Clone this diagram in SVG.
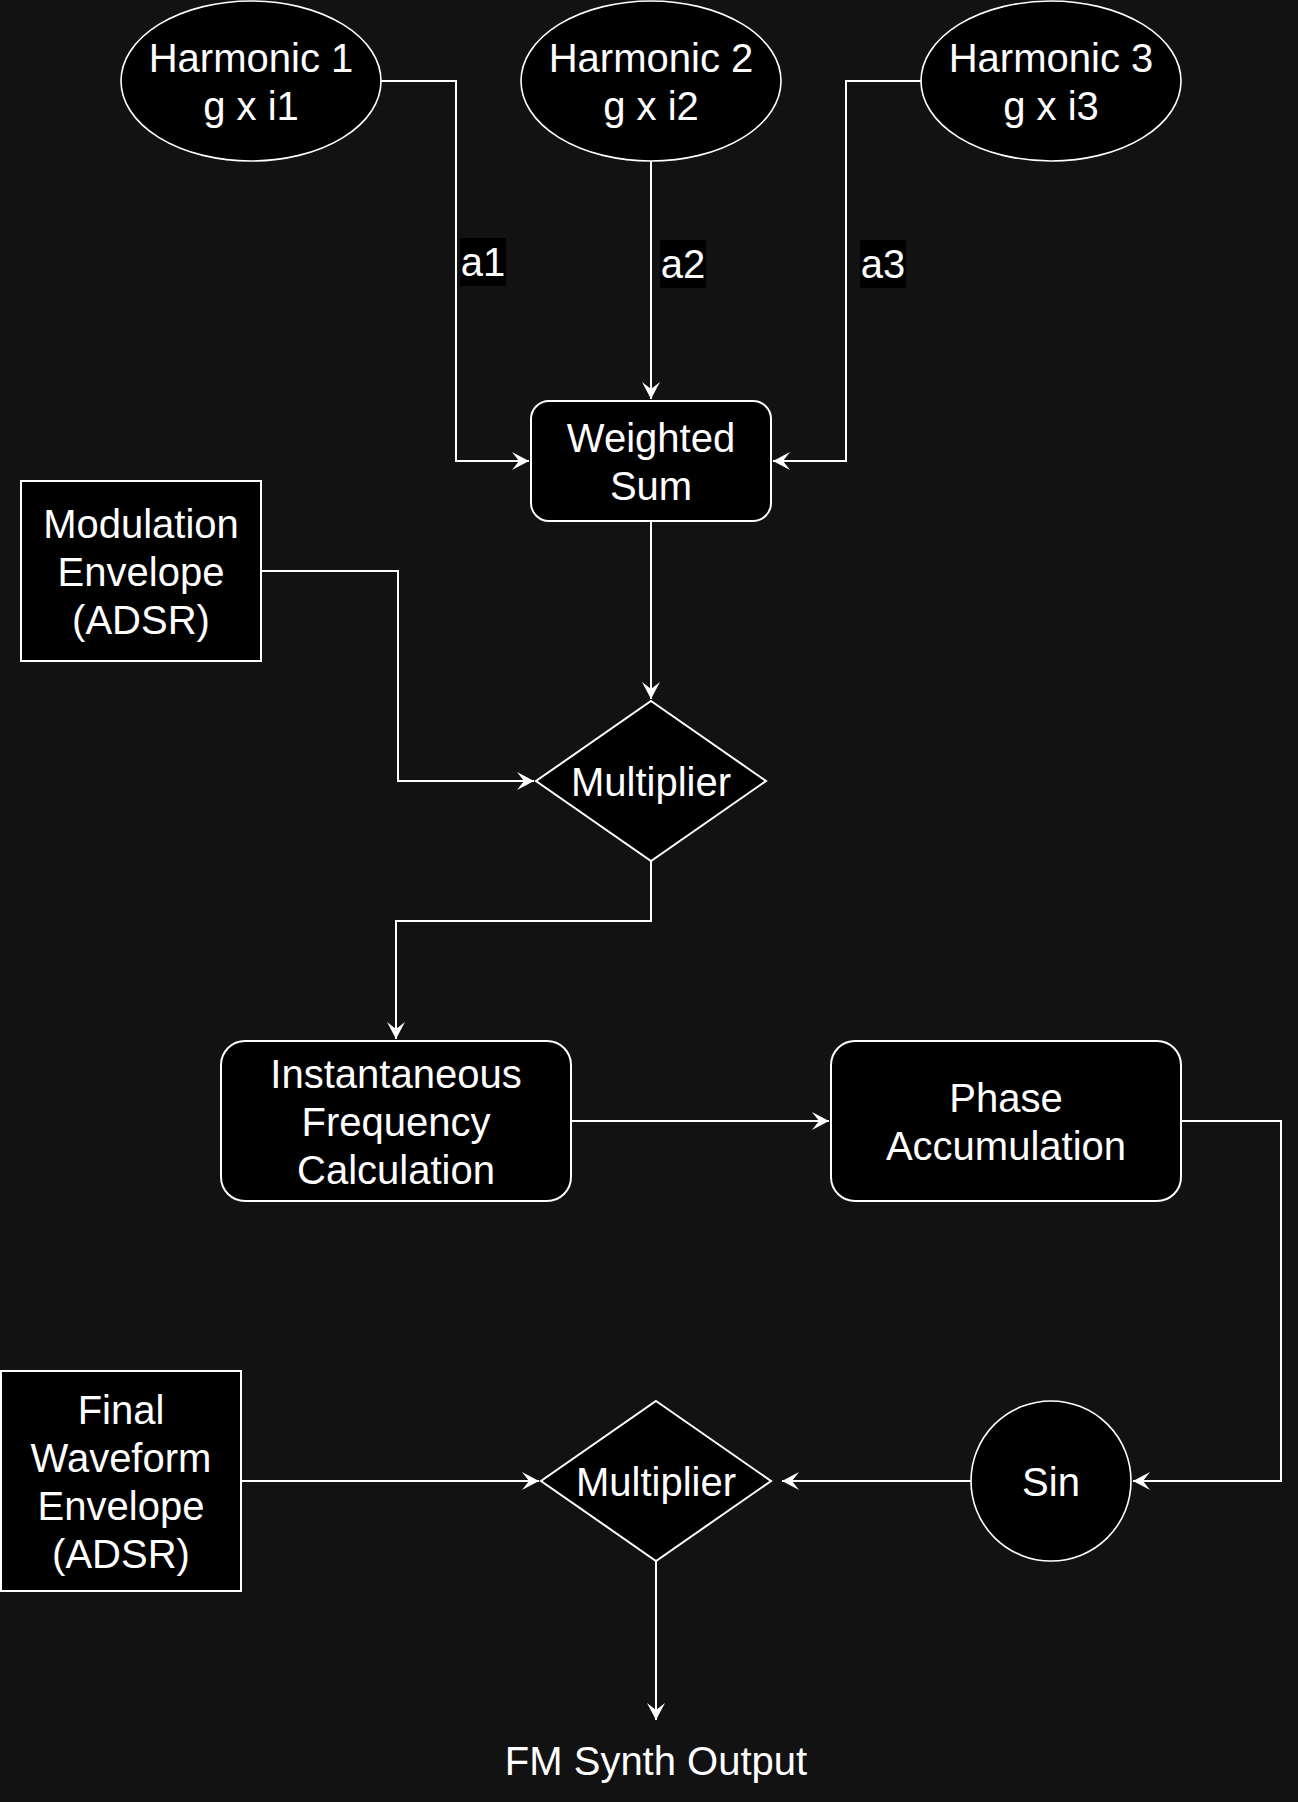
<svg xmlns="http://www.w3.org/2000/svg" width="1298" height="1802" viewBox="0 0 1298 1802">
<style>
.n{fill:#000;stroke:#fff;stroke-width:2}
.e{fill:#000;stroke:#fff;stroke-width:1.6}
.t{font-family:"Liberation Sans",Arial,sans-serif;font-size:40px;fill:#fff;text-anchor:middle}
.c{fill:none;stroke:#fff;stroke-width:2}
.lb{fill:#000}
</style>
<defs>
<marker id="arr" viewBox="-18 -10 19 20" refX="0" refY="0" markerWidth="19" markerHeight="20" orient="auto" markerUnits="userSpaceOnUse">
<path d="M0,0 L-17,-9 L-10,0 L-17,9 Z" fill="#fff"/>
</marker>
</defs>
<rect x="0" y="0" width="1298" height="1802" fill="#121212"/>
<g id="connectors">
<path class="c" d="M381,81 H456 V461 H529" marker-end="url(#arr)"/>
<path class="c" d="M651,161 V399" marker-end="url(#arr)"/>
<path class="c" d="M921,81 H846 V461 H773" marker-end="url(#arr)"/>
<path class="c" d="M651,521 V699" marker-end="url(#arr)"/>
<path class="c" d="M261,571 H398 V781 H534" marker-end="url(#arr)"/>
<path class="c" d="M651,861 V921 H396 V1039" marker-end="url(#arr)"/>
<path class="c" d="M571,1121 H829" marker-end="url(#arr)"/>
<path class="c" d="M1181,1121 H1281 V1481 H1133" marker-end="url(#arr)"/>
<path class="c" d="M971,1481 H782" marker-end="url(#arr)"/>
<path class="c" d="M241,1481 H539" marker-end="url(#arr)"/>
<path class="c" d="M656,1561 V1720" marker-end="url(#arr)"/>
<g id="label-a1"><rect class="lb" x="460" y="238" width="46" height="48"/><text class="t" x="483" y="276">a1</text></g>
<g id="label-a2"><rect class="lb" x="660" y="240" width="46" height="48"/><text class="t" x="683" y="278">a2</text></g>
<g id="label-a3"><rect class="lb" x="860" y="240" width="46" height="48"/><text class="t" x="883" y="278">a3</text></g>
</g>
<g id="harmonic1"><ellipse class="e" cx="251" cy="81" rx="130" ry="80"/><text class="t" x="251" y="72">Harmonic 1</text><text class="t" x="251" y="120">g x i1</text></g>
<g id="harmonic2"><ellipse class="e" cx="651" cy="81" rx="130" ry="80"/><text class="t" x="651" y="72">Harmonic 2</text><text class="t" x="651" y="120">g x i2</text></g>
<g id="harmonic3"><ellipse class="e" cx="1051" cy="81" rx="130" ry="80"/><text class="t" x="1051" y="72">Harmonic 3</text><text class="t" x="1051" y="120">g x i3</text></g>
<g id="weighted-sum"><rect class="n" x="531" y="401" width="240" height="120" rx="18"/><text class="t" x="651" y="452">Weighted</text><text class="t" x="651" y="500">Sum</text></g>
<g id="modulation-envelope"><rect class="n" x="21" y="481" width="240" height="180"/><text class="t" x="141" y="538">Modulation</text><text class="t" x="141" y="586">Envelope</text><text class="t" x="141" y="634">(ADSR)</text></g>
<g id="multiplier1"><polygon class="n" points="651,701 766,781 651,861 536,781"/><text class="t" x="651" y="796">Multiplier</text></g>
<g id="inst-freq"><rect class="n" x="221" y="1041" width="350" height="160" rx="24"/><text class="t" x="396" y="1088">Instantaneous</text><text class="t" x="396" y="1136">Frequency</text><text class="t" x="396" y="1184">Calculation</text></g>
<g id="phase-acc"><rect class="n" x="831" y="1041" width="350" height="160" rx="24"/><text class="t" x="1006" y="1112">Phase</text><text class="t" x="1006" y="1160">Accumulation</text></g>
<g id="final-envelope"><rect class="n" x="1" y="1371" width="240" height="220"/><text class="t" x="121" y="1424">Final</text><text class="t" x="121" y="1472">Waveform</text><text class="t" x="121" y="1520">Envelope</text><text class="t" x="121" y="1568">(ADSR)</text></g>
<g id="multiplier2"><polygon class="n" points="656,1401 771,1481 656,1561 541,1481"/><text class="t" x="656" y="1496">Multiplier</text></g>
<g id="sin"><circle class="e" cx="1051" cy="1481" r="80"/><text class="t" x="1051" y="1496">Sin</text></g>
<g id="output"><text class="t" x="656" y="1775">FM Synth Output</text></g>
</svg>
